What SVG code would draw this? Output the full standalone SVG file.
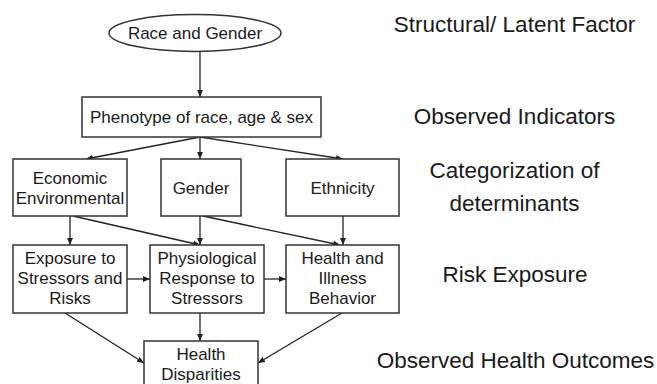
<svg xmlns="http://www.w3.org/2000/svg" width="657" height="384" viewBox="0 0 657 384">
<style>
.box{fill:#fff;stroke:#333;stroke-width:1.5}
.t{font-family:"Liberation Sans",Arial,sans-serif;font-size:17px;fill:#1a1a1a;text-anchor:middle}
.lab{font-family:"Liberation Sans",Arial,sans-serif;font-size:22.5px;fill:#1a1a1a;text-anchor:middle}
.c{stroke:#222;stroke-width:1.3;fill:none;marker-end:url(#ah)}
</style>
<defs>
<marker id="ah" markerWidth="8" markerHeight="8" refX="7" refY="4" orient="auto" markerUnits="userSpaceOnUse">
<path d="M0,1 L7,4 L0,7 Z" fill="#222"/>
</marker>
</defs>
<rect width="657" height="384" fill="#fff"/>
<g id="connectors">
<line class="c" x1="200" y1="52" x2="200" y2="97"/>
<line class="c" x1="200" y1="137" x2="86" y2="159"/>
<line class="c" x1="200" y1="137" x2="200" y2="159"/>
<line class="c" x1="200" y1="137" x2="343" y2="159"/>
<line class="c" x1="70" y1="216" x2="70" y2="245"/>
<line class="c" x1="73" y1="216" x2="200" y2="245"/>
<line class="c" x1="200" y1="216" x2="200" y2="245"/>
<line class="c" x1="203" y1="216" x2="340" y2="245"/>
<line class="c" x1="343" y1="216" x2="343" y2="245"/>
<line class="c" x1="127" y1="279" x2="150" y2="279"/>
<line class="c" x1="264" y1="279" x2="286" y2="279"/>
<line class="c" x1="65" y1="313" x2="144" y2="363"/>
<line class="c" x1="200" y1="313" x2="200" y2="341"/>
<line class="c" x1="342" y1="313" x2="258" y2="363"/>
</g>
<g id="race-gender">
<ellipse cx="195" cy="33" rx="86" ry="18.5" class="box"/>
<text class="t" x="195" y="39">Race and Gender</text>
</g>
<g id="phenotype">
<rect class="box" x="82" y="97" width="239" height="40"/>
<text class="t" x="201.5" y="123">Phenotype of race, age &amp; sex</text>
</g>
<g id="economic">
<rect class="box" x="13" y="159" width="114" height="57"/>
<text class="t" x="70" y="184">Economic</text>
<text class="t" x="70" y="204">Environmental</text>
</g>
<g id="gender">
<rect class="box" x="161" y="159" width="80" height="57"/>
<text class="t" x="201" y="194">Gender</text>
</g>
<g id="ethnicity">
<rect class="box" x="286" y="159" width="113" height="57"/>
<text class="t" x="342.5" y="194">Ethnicity</text>
</g>
<g id="exposure">
<rect class="box" x="13" y="245" width="114" height="68"/>
<text class="t" x="70" y="264">Exposure to</text>
<text class="t" x="70" y="284">Stressors and</text>
<text class="t" x="70" y="304">Risks</text>
</g>
<g id="physiological">
<rect class="box" x="150" y="245" width="114" height="68"/>
<text class="t" x="207" y="264">Physiological</text>
<text class="t" x="207" y="284">Response to</text>
<text class="t" x="207" y="304">Stressors</text>
</g>
<g id="health-illness">
<rect class="box" x="286" y="245" width="113" height="68"/>
<text class="t" x="342.5" y="264">Health and</text>
<text class="t" x="342.5" y="284">Illness</text>
<text class="t" x="342.5" y="304">Behavior</text>
</g>
<g id="health-disparities">
<rect class="box" x="144" y="341" width="114" height="45"/>
<text class="t" x="201" y="360">Health</text>
<text class="t" x="201" y="380">Disparities</text>
</g>
<g id="levels">
<text class="lab" x="514.5" y="32">Structural/ Latent Factor</text>
<text class="lab" x="514.5" y="124">Observed Indicators</text>
<text class="lab" x="514.5" y="178">Categorization of</text>
<text class="lab" x="514.5" y="211">determinants</text>
<text class="lab" x="515" y="282">Risk Exposure</text>
<text class="lab" x="515.5" y="368">Observed Health Outcomes</text>
</g>
</svg>
